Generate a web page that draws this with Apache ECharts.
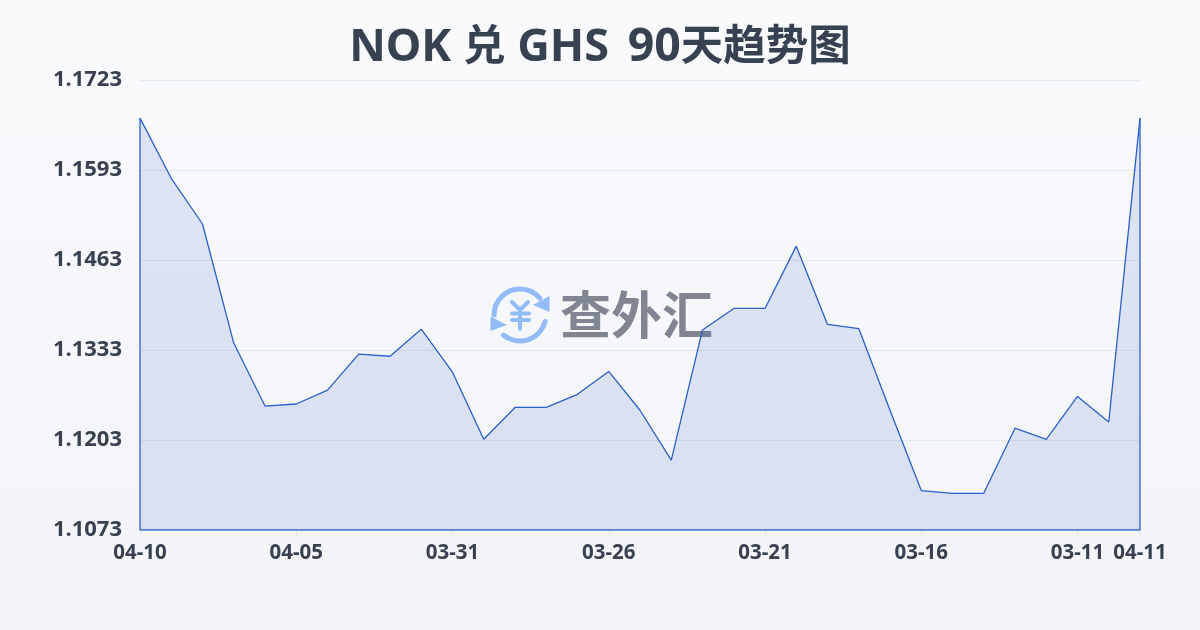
<!DOCTYPE html>
<html><head><meta charset="utf-8">
<style>html,body{margin:0;padding:0;width:1200px;height:630px;overflow:hidden}#c{width:1200px;height:630px}</style>
<script src="https://cdn.jsdelivr.net/npm/echarts@6/dist/echarts.min.js"></script>
</head><body><div id="c"></div>
<script>
const categories = ['04-10','04-09','04-08','04-07','04-06','04-05','04-04','04-03','04-02','04-01','03-31','03-30','03-29','03-28','03-27','03-26','03-25','03-24','03-23','03-22','03-21','03-20','03-19','03-18','03-17','03-16','03-15','03-14','03-13','03-12','03-11','03-10','04-11'];
const rates = [1.1668,1.1581,1.1515,1.1343,1.1252,1.1255,1.1275,1.1327,1.1324,1.1363,1.1301,1.1204,1.1250,1.1250,1.1269,1.1302,1.1246,1.1174,1.1362,1.1393,1.1393,1.1483,1.1370,1.1364,1.1246,1.1130,1.1126,1.1126,1.1220,1.1204,1.1266,1.1229,1.1668];
const yTicks = [1.1073,1.1203,1.1333,1.1463,1.1593,1.1723];
const xLabelIdx = [0,5,10,15,20,25,30,32];
const yMin = 1.1073, yMax = 1.1723;
const lineColor = '#2b5fc9', textColor = '#374151', iconColor = '#93bbf8';
const font = '"Noto Sans","Noto Sans CJK SC",sans-serif';
const outline = [[categories[0],rates[0]],[categories[0],yMin],[categories[32],yMin],[categories[32],rates[32]]];
const chart = echarts.init(document.getElementById('c'),null,{renderer:'canvas'});
const iconLine = {stroke:iconColor,lineWidth:4,fill:null,lineCap:'round',lineJoin:'round'};
const titleBase = {fontFamily:font,fontWeight:'bold',color:textColor,lineHeight:56};
chart.setOption({
  animation:false,
  backgroundColor:{type:'linear',x:0,y:0,x2:0,y2:1,colorStops:[{offset:0,color:'#f9fafc'},{offset:1,color:'#f3f4f7'}]},
  title:{text:'{lat|NOK }{cjk|兑}{lat| GHS }{num|90}{cjk|天趋势图}',left:'center',top:15,
    textStyle:{fontFamily:font,fontSize:44,fontWeight:'bold',color:textColor,
      rich:{lat:Object.assign({},titleBase,{fontSize:45}),
            cjk:Object.assign({},titleBase,{fontSize:42.5}),
            num:Object.assign({},titleBase,{fontSize:46.5,padding:[0,0,0,7]})}}},
  grid:{left:140,right:60,top:80,bottom:100,containLabel:false},
  xAxis:{type:'category',boundaryGap:false,data:categories,
    axisLine:{show:false},
    axisTick:{show:true,length:8,alignWithLabel:true,interval:i=>xLabelIdx.includes(i),lineStyle:{color:'#e2e8f0'}},
    axisLabel:{interval:i=>xLabelIdx.includes(i),hideOverlap:false,showMinLabel:true,showMaxLabel:true,margin:13,fontFamily:font,fontSize:20.5,fontWeight:'bold',color:textColor},
    splitLine:{show:false}},
  yAxis:{type:'value',min:yMin,max:yMax,
    axisLine:{show:false},axisTick:{show:false,customValues:yTicks},
    axisLabel:{customValues:yTicks,formatter:v=>v.toFixed(4),margin:18,padding:[0,0,4,0],fontFamily:font,fontSize:22,fontWeight:'bold',color:textColor},
    splitLine:{show:true,lineStyle:{color:'#e2e8f0',width:1}}},
  graphic:[
    {type:'group',z:0,children:[
      {type:'arc',shape:{cx:520,cy:315,r:26,startAngle:Math.PI*1.0,endAngle:Math.PI*1.78},style:Object.assign({},iconLine,{lineWidth:5})},
      {type:'arc',shape:{cx:520,cy:315,r:26,startAngle:Math.PI*0.08,endAngle:Math.PI*0.72},style:Object.assign({},iconLine,{lineWidth:5})},
      {type:'polygon',shape:{points:[[549.5,296],[549.5,312],[533,305]]},style:{fill:iconColor}},
      {type:'polygon',shape:{points:[[490.5,316.5],[490.5,331],[507,325]]},style:{fill:iconColor}},
      {type:'polyline',shape:{points:[[512,302],[520,310],[528,302]]},style:iconLine},
      {type:'line',shape:{x1:512,y1:313.5,x2:529,y2:313.5},style:iconLine},
      {type:'line',shape:{x1:512,y1:320,x2:529,y2:320},style:iconLine},
      {type:'line',shape:{x1:520,y1:310,x2:520,y2:329},style:iconLine},
      {type:'text',style:{x:560,y:315,text:'查外汇',align:'left',verticalAlign:'middle',fontFamily:'"Noto Sans CJK SC"',fontSize:51,fontWeight:'bold',fill:'#7f8691'}}
    ]}
  ],
  series:[
    {type:'line',name:'NOK/GHS',data:rates,symbol:'none',smooth:false,z:3,lineStyle:{color:lineColor,width:1.3},areaStyle:{color:'rgba(50,100,215,0.2)'}},
    {type:'line',name:'outline',data:outline,symbol:'none',z:3,silent:true,lineStyle:{color:lineColor,width:1.3}}
  ]
});
</script></body></html>
